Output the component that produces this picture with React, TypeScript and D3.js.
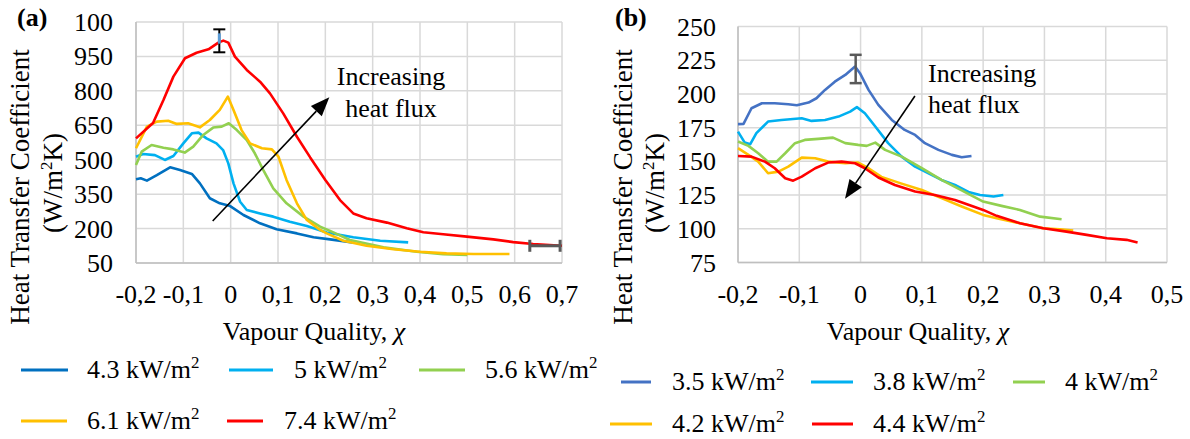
import React from "react";
import * as d3 from "d3";

const FONT = "'Liberation Serif', 'Times New Roman', serif";

// ---------- Panel (a) ----------
const xTicksA = [-0.2, -0.1, 0, 0.1, 0.2, 0.3, 0.4, 0.5, 0.6, 0.7];
const yTicksA = [50, 200, 350, 500, 650, 800, 950, 1100];
const yTickLabelsA = ["50", "200", "350", "500", "650", "800", "950", "100"];

const a43: [number, number][] = [
  [-0.2, 415], [-0.19, 419], [-0.177, 409], [-0.156, 433], [-0.128, 467], [-0.107, 455],
  [-0.082, 438], [-0.065, 397], [-0.044, 332], [-0.023, 310], [-0.001, 298], [0.027, 259],
  [0.062, 223], [0.097, 197], [0.14, 179], [0.175, 162], [0.21, 153], [0.257, 140],
];
const a50: [number, number][] = [
  [-0.2, 513], [-0.185, 525], [-0.16, 520], [-0.139, 499], [-0.121, 516], [-0.1, 571],
  [-0.082, 615], [-0.068, 618], [-0.051, 593], [-0.03, 571], [-0.016, 542], [-0.005, 484],
  [0.006, 397], [0.02, 317], [0.034, 281], [0.062, 266], [0.09, 252], [0.125, 230],
  [0.161, 211], [0.203, 183], [0.259, 162], [0.316, 147], [0.375, 140],
];
const a56: [number, number][] = [
  [-0.2, 477], [-0.188, 535], [-0.167, 564], [-0.142, 552], [-0.121, 545], [-0.097, 531],
  [-0.079, 557], [-0.058, 608], [-0.037, 640], [-0.019, 644], [-0.004, 659], [0.013, 629],
  [0.034, 586], [0.051, 528], [0.069, 455], [0.09, 375], [0.118, 310], [0.154, 252],
  [0.189, 208], [0.21, 190], [0.252, 150], [0.323, 118], [0.393, 99], [0.449, 88], [0.5, 85],
];
const a61: [number, number][] = [
  [-0.2, 550], [-0.177, 644], [-0.156, 666], [-0.132, 670], [-0.114, 656], [-0.09, 659],
  [-0.065, 641], [-0.044, 673], [-0.023, 717], [-0.006, 775], [0.006, 717], [0.023, 629],
  [0.041, 571], [0.066, 550], [0.087, 545], [0.101, 513], [0.118, 412], [0.14, 310],
  [0.161, 237], [0.189, 194], [0.203, 179], [0.238, 147], [0.287, 125], [0.344, 110],
  [0.4, 99], [0.456, 92], [0.513, 89], [0.589, 89],
];
const a74: [number, number][] = [
  [-0.2, 593], [-0.164, 660], [-0.142, 760], [-0.121, 862], [-0.0965, 942], [-0.072, 966],
  [-0.047, 981], [-0.026, 1010], [-0.0155, 1019], [-0.005, 1010], [0.009, 949], [0.034, 891],
  [0.062, 840], [0.083, 789], [0.111, 702], [0.14, 600], [0.168, 510], [0.2, 412],
  [0.231, 324], [0.259, 266], [0.287, 245], [0.33, 226], [0.372, 201], [0.407, 184],
  [0.449, 175], [0.499, 165], [0.555, 153], [0.597, 141], [0.639, 133], [0.7, 125],
];
const namesA = ["4.3", "5", "5.6", "6.1", "7.4"];
const colorsA = ["#0070C0", "#00B0F0", "#92D050", "#FFC000", "#FF0000"];

// ---------- Panel (b) ----------
const xTicksB = [-0.2, -0.1, 0, 0.1, 0.2, 0.3, 0.4, 0.5];
const yTicksB = [75, 100, 125, 150, 175, 200, 225, 250];

const b35: [number, number][] = [
  [-0.2, 177.6], [-0.191, 177.8], [-0.178, 189.4], [-0.161, 193.1], [-0.14, 193.1], [-0.118, 192.4],
  [-0.104, 191.6], [-0.085, 193.6], [-0.072, 196.8], [-0.058, 203], [-0.042, 209.1], [-0.025, 214.1],
  [-0.009, 220.3], [-0.001, 215.4], [0.013, 203], [0.029, 191.9], [0.051, 180.7], [0.072, 173.3],
  [0.089, 169.6], [0.105, 163.5], [0.127, 158.5], [0.149, 154.8], [0.165, 153], [0.181, 154],
];
const b38: [number, number][] = [
  [-0.2, 172], [-0.189, 163.9], [-0.18, 162.7], [-0.17, 170.9], [-0.151, 179.5], [-0.129, 180.7],
  [-0.096, 182], [-0.08, 180], [-0.058, 180.7], [-0.036, 183.2], [-0.017, 186.9], [-0.006, 190.2],
  [0.007, 185.7], [0.024, 175.8], [0.045, 163.5], [0.067, 153.5], [0.089, 146.1], [0.111, 141.2],
  [0.132, 136.2], [0.154, 132.5], [0.176, 127.3], [0.195, 125.1], [0.217, 123.9], [0.233, 125.1],
];
const b40: [number, number][] = [
  [-0.2, 164.7], [-0.183, 161.5], [-0.167, 156], [-0.151, 149.8], [-0.137, 149.8], [-0.123, 156],
  [-0.107, 163.5], [-0.091, 165.9], [-0.069, 166.7], [-0.045, 167.6], [-0.025, 163.5], [-0.004, 162.2],
  [0.01, 161.5], [0.024, 163.9], [0.04, 158.5], [0.067, 153.5], [0.1, 144.9], [0.132, 136.2],
  [0.165, 128.5], [0.2, 120.2], [0.23, 117], [0.26, 114], [0.293, 109], [0.328, 107.1],
];
const b42: [number, number][] = [
  [-0.2, 159.8], [-0.183, 154.8], [-0.167, 149.8], [-0.151, 141.2], [-0.134, 142.4], [-0.118, 146.1],
  [-0.096, 152.8], [-0.074, 152.3], [-0.053, 149.8], [-0.025, 148.6], [-0.004, 149.1], [0.013, 144.9],
  [0.034, 138.5], [0.067, 133.5], [0.1, 128.8], [0.132, 122.7], [0.165, 116.5], [0.2, 110.3],
  [0.222, 107.8], [0.26, 104.1], [0.298, 100.4], [0.325, 99.7], [0.347, 98.7],
];
const b44: [number, number][] = [
  [-0.2, 154], [-0.178, 153.5], [-0.156, 149.8], [-0.14, 144.9], [-0.123, 137.5], [-0.11, 135.7],
  [-0.096, 138.7], [-0.074, 144.9], [-0.053, 149.1], [-0.031, 149.8], [-0.009, 148.6], [0.007, 144.9],
  [0.029, 138], [0.056, 132.5], [0.089, 127.6], [0.121, 125.1], [0.154, 121.4], [0.184, 116.5],
  [0.2, 114], [0.222, 109.6], [0.26, 104.1], [0.298, 100.4], [0.336, 97.9], [0.369, 95.5],
  [0.402, 93], [0.434, 91.8], [0.452, 89.8],
];
const namesB = ["3.5", "3.8", "4", "4.2", "4.4"];
const colorsB = ["#4472C4", "#00B0F0", "#92D050", "#FFC000", "#FF0000"];

const fmtX = (v: number) => (Math.abs(v) < 1e-9 ? "0" : d3.format(".1f")(v).replace(".", ",").replace("−", "-"));

type Panel = {
  tag: string;
  left: number; right: number; top: number; bottom: number;
  xDomain: [number, number]; yDomain: [number, number];
  xTicks: number[]; yTicks: number[]; yLabels: string[];
  series: [number, number][][]; colors: string[];
  yLabelX: number; title1X: number; title2X: number; titleY: number; xTitleX: number;
  tagX: number;
};

const panels: Panel[] = [
  {
    tag: "(a)", left: 136, right: 562, top: 22, bottom: 263,
    xDomain: [-0.2, 0.7], yDomain: [50, 1100],
    xTicks: xTicksA, yTicks: yTicksA, yLabels: yTickLabelsA,
    series: [a43, a50, a56, a61, a74], colors: colorsA,
    yLabelX: 113, title1X: 20, title2X: 53, titleY: 187, xTitleX: 314, tagX: 17,
  },
  {
    tag: "(b)", left: 738, right: 1167, top: 26.5, bottom: 262.5,
    xDomain: [-0.2, 0.5], yDomain: [75, 250],
    xTicks: xTicksB, yTicks: yTicksB, yLabels: yTicksB.map(String),
    series: [b35, b38, b40, b42, b44], colors: colorsB,
    yLabelX: 716, title1X: 623, title2X: 655, titleY: 187, xTitleX: 918, tagX: 615,
  },
];

function Arrow({ x1, y1, x2, y2 }: { x1: number; y1: number; x2: number; y2: number }) {
  const ang = Math.atan2(y2 - y1, x2 - x1);
  const L = 19, W = 7.5;
  const bx = x2 - L * Math.cos(ang), by = y2 - L * Math.sin(ang);
  const px = -Math.sin(ang), py = Math.cos(ang);
  const pts = `${x2},${y2} ${bx + W * px},${by + W * py} ${bx - W * px},${by - W * py}`;
  return (
    <g>
      <line x1={x1} y1={y1} x2={bx} y2={by} stroke="#000" strokeWidth={1.6} />
      <polygon points={pts} fill="#000" />
    </g>
  );
}

function Sup({ base, sup, x, y, anchor = "start", size = 26 }: any) {
  return (
    <text x={x} y={y} fontFamily={FONT} fontSize={size} textAnchor={anchor} fill="#000">
      {base}
      <tspan fontSize={size * 0.65} dy={-size * 0.38}>{sup}</tspan>
    </text>
  );
}

export default function App() {
  const rendered = panels.map((p, pi) => {
    const x = d3.scaleLinear().domain(p.xDomain).range([p.left, p.right]);
    const y = d3.scaleLinear().domain(p.yDomain).range([p.bottom, p.top]);
    const line = d3.line<[number, number]>().x((d) => x(d[0])).y((d) => y(d[1]));
    return { p, x, y, line, pi };
  });

  const [A, B] = rendered;

  // error bars & annotations (data coordinates)
  const errA = { x: -0.024, y: 1018, e: 50 };
  const errAh = { x: 0.664, y: 125, e: 0.032 };
  const errB = { x: -0.008, y: 218.5, e: 10.5 };
  const arrowA = { x1: -0.038, y1: 233, x2: 0.2085, y2: 772 };
  const arrowB = { x1: 0.0887, y1: 198.5, x2: -0.0254, y2: 122.2 };

  return (
    <svg width={1190} height={439} style={{ position: "absolute", left: 0, top: 0, background: "#fff" }}>
      <rect width={1190} height={439} fill="#fff" />
      {rendered.map(({ p, x, y, line, pi }) => (
        <g key={pi}>
          {/* grid */}
          {p.xTicks.map((t, i) => (
            <line key={"gx" + i} x1={x(t)} x2={x(t)} y1={p.top} y2={p.bottom} stroke="#D9D9D9" strokeWidth={1.5} />
          ))}
          {p.yTicks.map((t, i) => (
            <line key={"gy" + i} x1={p.left} x2={p.right} y1={y(t)} y2={y(t)} stroke="#D9D9D9" strokeWidth={1.5} />
          ))}
          <line x1={p.left} x2={p.left} y1={p.top} y2={p.bottom} stroke="#BFBFBF" strokeWidth={1.5} />
          <line x1={p.left} x2={p.right} y1={p.bottom} y2={p.bottom} stroke="#BFBFBF" strokeWidth={1.5} />
          {/* tick labels */}
          {p.yTicks.map((t, i) => (
            <text key={"ly" + i} x={p.yLabelX} y={y(t) + 9} textAnchor="end" fontFamily={FONT} fontSize={26} fill="#000">
              {p.yLabels[i]}
            </text>
          ))}
          {p.xTicks.map((t, i) => (
            <text key={"lx" + i} x={x(t)} y={303} textAnchor="middle" fontFamily={FONT} fontSize={26} fill="#000">
              {fmtX(t)}
            </text>
          ))}
          {/* axis titles */}
          <text x={p.xTitleX} y={340} textAnchor="middle" fontFamily={FONT} fontSize={26} fill="#000">
            Vapour Quality, <tspan fontStyle="italic">χ</tspan>
          </text>
          <text transform={`translate(${p.title1X + 9},${p.titleY}) rotate(-90)`} textAnchor="middle" fontFamily={FONT} fontSize={27} fill="#000">
            Heat Transfer Coefficient
          </text>
          <text transform={`translate(${p.title2X + 9},${p.titleY - 4}) rotate(-90)`} textAnchor="middle" fontFamily={FONT} fontSize={27} fill="#000">
            (W/m<tspan fontSize={17} dy={-10}>2</tspan><tspan dy={10}>K)</tspan>
          </text>
          <text x={p.tagX} y={26} fontFamily={FONT} fontSize={26} fontWeight="bold" fill="#000">{p.tag}</text>
          {/* series */}
          {p.series.map((s, i) => (
            <path key={"s" + i} d={line(s) || ""} fill="none" stroke={p.colors[i]} strokeWidth={2.6} strokeLinejoin="round" />
          ))}
        </g>
      ))}

      {/* Panel (a) error bars */}
      <g stroke="#000" strokeWidth={2}>
        <line x1={A.x(errA.x)} x2={A.x(errA.x)} y1={A.y(errA.y + errA.e)} y2={A.y(errA.y - errA.e)} />
        <line x1={A.x(errA.x) - 6} x2={A.x(errA.x) + 6} y1={A.y(errA.y + errA.e)} y2={A.y(errA.y + errA.e)} />
        <line x1={A.x(errA.x) - 6} x2={A.x(errA.x) + 6} y1={A.y(errA.y - errA.e)} y2={A.y(errA.y - errA.e)} />
      </g>
      <line x1={A.x(errA.x)} x2={A.x(errA.x)} y1={A.y(errA.y + errA.e * 0.65)} y2={A.y(errA.y - errA.e * 0.25)} stroke="#5B9BD5" strokeWidth={3} />
      <g stroke="#595959" strokeWidth={3}>
        <line x1={A.x(errAh.x - errAh.e)} x2={A.x(errAh.x + errAh.e)} y1={A.y(errAh.y)} y2={A.y(errAh.y)} />
        <line x1={A.x(errAh.x - errAh.e)} x2={A.x(errAh.x - errAh.e)} y1={A.y(errAh.y) - 6} y2={A.y(errAh.y) + 6} />
        <line x1={A.x(errAh.x + errAh.e)} x2={A.x(errAh.x + errAh.e)} y1={A.y(errAh.y) - 6} y2={A.y(errAh.y) + 6} />
      </g>
      {/* Panel (b) error bar */}
      <g stroke="#595959" strokeWidth={2.5}>
        <line x1={B.x(errB.x)} x2={B.x(errB.x)} y1={B.y(errB.y + errB.e)} y2={B.y(errB.y - errB.e)} />
        <line x1={B.x(errB.x) - 6} x2={B.x(errB.x) + 6} y1={B.y(errB.y + errB.e)} y2={B.y(errB.y + errB.e)} />
        <line x1={B.x(errB.x) - 6} x2={B.x(errB.x) + 6} y1={B.y(errB.y - errB.e)} y2={B.y(errB.y - errB.e)} />
      </g>

      {/* arrows + annotations */}
      <Arrow x1={A.x(arrowA.x1)} y1={A.y(arrowA.y1)} x2={A.x(arrowA.x2)} y2={A.y(arrowA.y2)} />
      <Arrow x1={B.x(arrowB.x1)} y1={B.y(arrowB.y1)} x2={B.x(arrowB.x2)} y2={B.y(arrowB.y2)} />
      <text x={391} y={85} textAnchor="middle" fontFamily={FONT} fontSize={26} fill="#000">Increasing</text>
      <text x={391} y={117} textAnchor="middle" fontFamily={FONT} fontSize={26} fill="#000">heat flux</text>
      <text x={928} y={82} textAnchor="start" fontFamily={FONT} fontSize={26} fill="#000">Increasing</text>
      <text x={928} y={113} textAnchor="start" fontFamily={FONT} fontSize={26} fill="#000">heat flux</text>

      {/* legends (a) */}
      {[
        { lx1: 21, lx2: 68, tx: 87, y: 370 },
        { lx1: 229, lx2: 273, tx: 294, y: 370 },
        { lx1: 419, lx2: 465, tx: 485, y: 370 },
        { lx1: 21, lx2: 67, tx: 87, y: 421 },
        { lx1: 227, lx2: 263, tx: 284, y: 421 },
      ].map((l, i) => (
        <g key={"la" + i}>
          <line x1={l.lx1} x2={l.lx2} y1={l.y} y2={l.y} stroke={colorsA[i]} strokeWidth={3} />
          <Sup x={l.tx} y={l.y + 8} base={`${namesA[i]} kW/m`} sup="2" />
        </g>
      ))}
      {/* legends (b) */}
      {[
        { lx1: 621, lx2: 651, tx: 672, y: 382 },
        { lx1: 811, lx2: 853, tx: 873, y: 382 },
        { lx1: 1013, lx2: 1045, tx: 1065, y: 382 },
        { lx1: 610, lx2: 652, tx: 672, y: 424 },
        { lx1: 812, lx2: 853, tx: 873, y: 424 },
      ].map((l, i) => (
        <g key={"lb" + i}>
          <line x1={l.lx1} x2={l.lx2} y1={l.y} y2={l.y} stroke={colorsB[i]} strokeWidth={3} />
          <Sup x={l.tx} y={l.y + 8} base={`${namesB[i]} kW/m`} sup="2" />
        </g>
      ))}
    </svg>
  );
}
